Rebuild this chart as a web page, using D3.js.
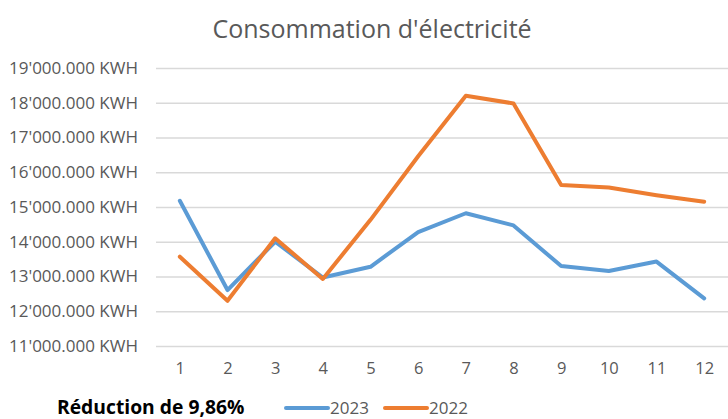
<!DOCTYPE html>
<html>
<head>
<meta charset="utf-8">
<script src="https://cdn.jsdelivr.net/npm/d3@7"></script>
<style>
  body { margin: 0; background: #fff; }
  text { font-family: "Open Sans", sans-serif; }
</style>
</head>
<body>
<div id="chart"></div>
<script>
// data
const months = [1, 2, 3, 4, 5, 6, 7, 8, 9, 10, 11, 12];
const values2023 = [15180, 12610, 14000, 12970, 13280, 14280, 14820, 14470, 13300, 13160, 13430, 12370];
const values2022 = [13570, 12300, 14100, 12930, 14630, 16460, 18200, 17980, 15630, 15560, 15340, 15150];
const yTicks = [11000, 12000, 13000, 14000, 15000, 16000, 17000, 18000, 19000];

const width = 728, height = 419;
let margin = {top: 68, right: 0, bottom: 73, left: 156};

let svg = d3.select("#chart")
  .append("svg")
  .attr("width", width)
  .attr("height", height);

let x = d3.scalePoint()
  .domain(months)
  .range([margin.left, width - margin.right])
  .padding(0.5);

let y = d3.scaleLinear()
  .domain([11000, 19000])
  .range([height - margin.bottom, margin.top]);

// 19'000.000 style labels
const locale = d3.formatLocale({decimal: ".", thousands: "'", grouping: [3], currency: ["", ""]});
const fmt = locale.format(",.3f");

// title
svg.append("text")
  .attr("x", 372)
  .attr("y", 38)
  .attr("text-anchor", "middle")
  .attr("font-size", 25)
  .attr("fill", "#595959")
  .text("Consommation d'électricité");

// y axis + gridlines
let yAxis = svg.append("g")
  .attr("transform", "translate(" + margin.left + ",0)")
  .call(d3.axisLeft(y)
    .tickValues(yTicks)
    .tickSize(-(width - margin.left - margin.right))
    .tickPadding(18)
    .tickFormat(d => fmt(d) + " KWH"));
yAxis.select(".domain").remove();
yAxis.selectAll("line").attr("stroke", "#d9d9d9").attr("stroke-width", 1.5);
yAxis.selectAll("text")
  .attr("font-family", "Open Sans, sans-serif")
  .attr("font-size", 17)
  .attr("fill", "#595959");

// x axis labels
let xAxis = svg.append("g")
  .attr("transform", "translate(0," + (height - margin.bottom) + ")")
  .call(d3.axisBottom(x).tickSize(0).tickPadding(16));
xAxis.select(".domain").remove();
xAxis.selectAll("text")
  .attr("font-family", "Open Sans, sans-serif")
  .attr("font-size", 16.5)
  .attr("fill", "#595959");

// lines
let line = d3.line()
  .x((d, i) => x(months[i]))
  .y(d => y(d));

const series = [
  {name: "2023", values: values2023, color: "#5B9BD5"},
  {name: "2022", values: values2022, color: "#ED7D31"}
];

svg.append("g")
  .selectAll("path")
  .data(series)
  .enter()
  .append("path")
    .attr("d", d => line(d.values))
    .attr("fill", "none")
    .attr("stroke", d => d.color)
    .attr("stroke-width", 4)
    .attr("stroke-linejoin", "round")
    .attr("stroke-linecap", "round");

// footer note
svg.append("text")
  .attr("x", 57)
  .attr("y", 414)
  .attr("font-size", 19.3)
  .attr("font-weight", "bold")
  .attr("fill", "#000")
  .text("Réduction de 9,86%");

// legend
let legend = svg.append("g")
  .selectAll("g")
  .data(series)
  .enter()
  .append("g")
    .attr("transform", (d, i) => "translate(" + (286 + i * 99) + ",408)");
legend.append("line")
  .attr("x1", 0).attr("x2", 42)
  .attr("stroke", d => d.color)
  .attr("stroke-width", 4)
  .attr("stroke-linecap", "round");
legend.append("text")
  .attr("x", 44)
  .attr("y", 6)
  .attr("font-size", 17)
  .attr("fill", "#595959")
  .text(d => d.name);
</script>
</body>
</html>
